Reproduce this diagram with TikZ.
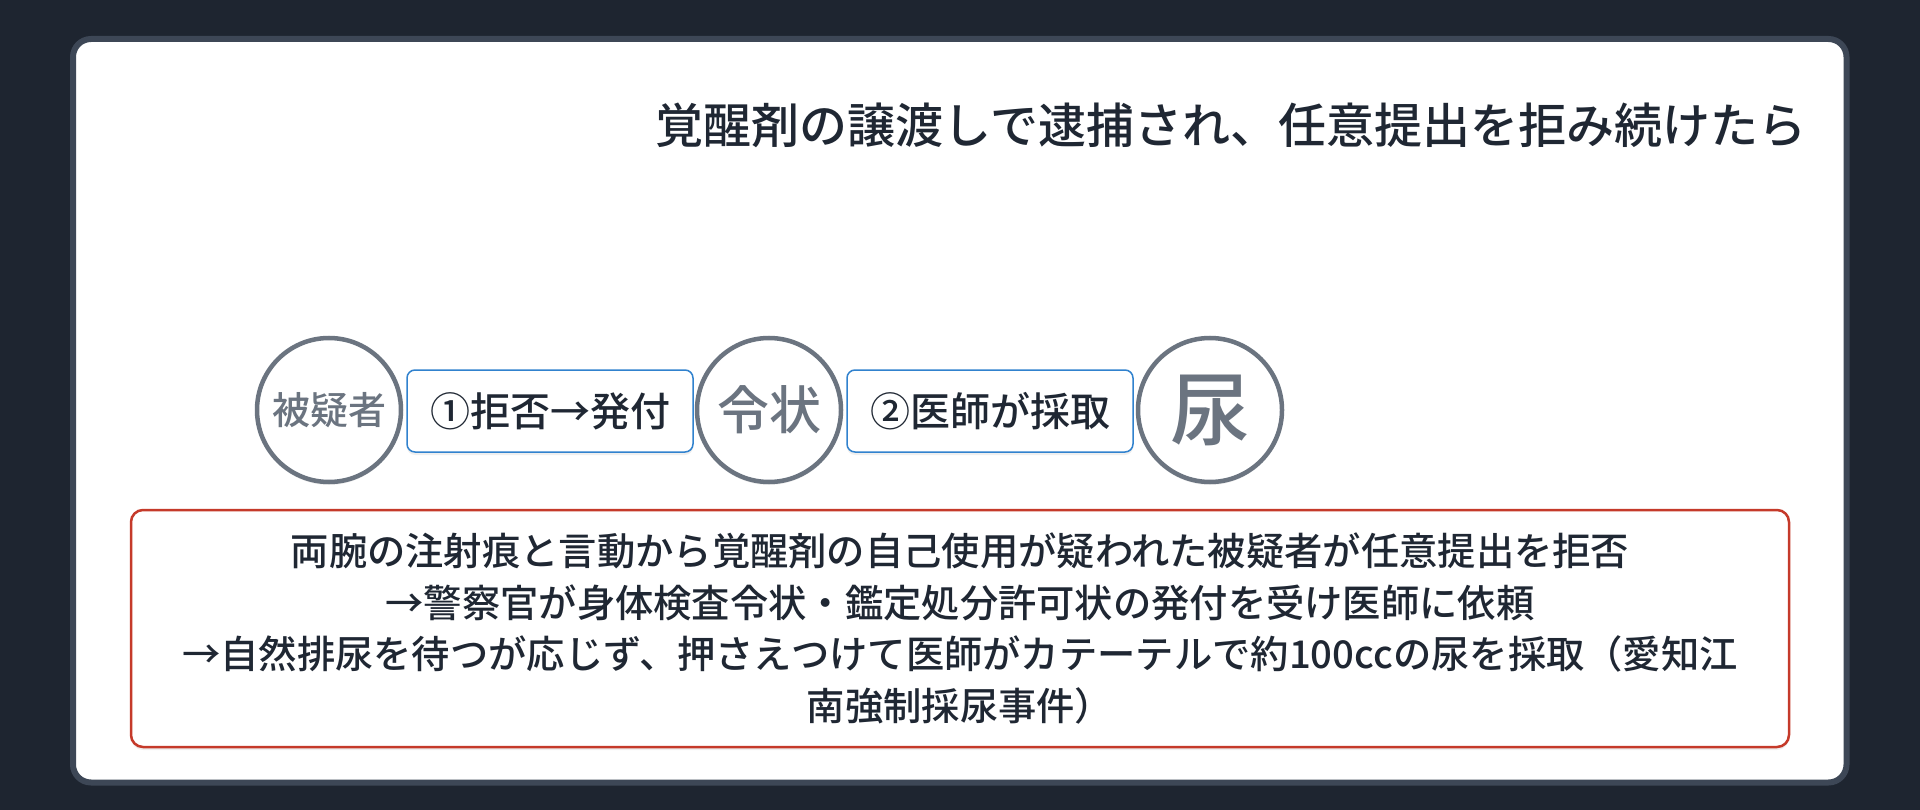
\documentclass[tikz,border=0pt]{standalone}
\usepackage{fontspec}
\setmainfont{Noto Sans CJK JP Medium}
\usetikzlibrary{shadows}
\definecolor{bg}{HTML}{1E2530}
\definecolor{cardborder}{HTML}{3D4756}
\definecolor{ink}{HTML}{1F2733}
\definecolor{grayc}{HTML}{6B7480}
\definecolor{blueb}{HTML}{3182CE}
\definecolor{redb}{HTML}{C53A2A}
\begin{document}
\begin{tikzpicture}[x=1pt,y=-1pt,
  softshadow/.style={drop shadow={opacity=0.12, shadow xshift=0pt, shadow yshift=-3pt}},
  token/.style={circle, draw=grayc, line width=4.5pt, fill=white, minimum size=144pt, inner sep=0pt, text=grayc, softshadow},
  stepbox/.style={rectangle, draw=blueb, line width=1.5pt, fill=white, rounded corners=8pt, minimum width=286pt, minimum height=82pt, inner sep=0pt, text=ink, font=\fontsize{40}{46}\selectfont, softshadow},
  notebox/.style={rectangle, draw=redb, line width=2.5pt, fill=white, rounded corners=12pt, minimum width=1658pt, minimum height=237pt, inner sep=0pt, text=ink, align=center, font=\fontsize{38.3}{51.5}\selectfont, softshadow}
]
\fill[bg] (0,0) rectangle (1920,810);
\useasboundingbox (0,0) rectangle (1920,810);
\draw[cardborder, line width=6pt, fill=white, rounded corners=18pt] (73,39) rectangle (1846.5,782.5);

\node[anchor=east, inner sep=0pt, text=ink, font=\fontsize{48}{56}\selectfont] (title) at (1807,125) {覚醒剤の譲渡しで逮捕され、任意提出を拒み続けたら};

\node[token, font=\fontsize{38}{44}\selectfont] (suspect) at (329,410) {被疑者};
\node[stepbox] (step1) at (550,411) {①拒否→発付};
\node[token, font=\fontsize{52}{60}\selectfont] (warrant) at (769,410) {令状};
\node[stepbox] (step2) at (990,411) {②医師が採取};
\node[token, font=\fontsize{80}{90}\selectfont] (urine) at (1210,410) {尿};

\node[notebox] (note) at (960,628.5) {両腕の注射痕と言動から覚醒剤の自己使用が疑われた被疑者が任意提出を拒否\\→警察官が身体検査令状・鑑定処分許可状の発付を受け医師に依頼\\→自然排尿を待つが応じず、押さえつけて医師がカテーテルで約100ccの尿を採取（愛知江\\南強制採尿事件）};
\end{tikzpicture}
\end{document}
